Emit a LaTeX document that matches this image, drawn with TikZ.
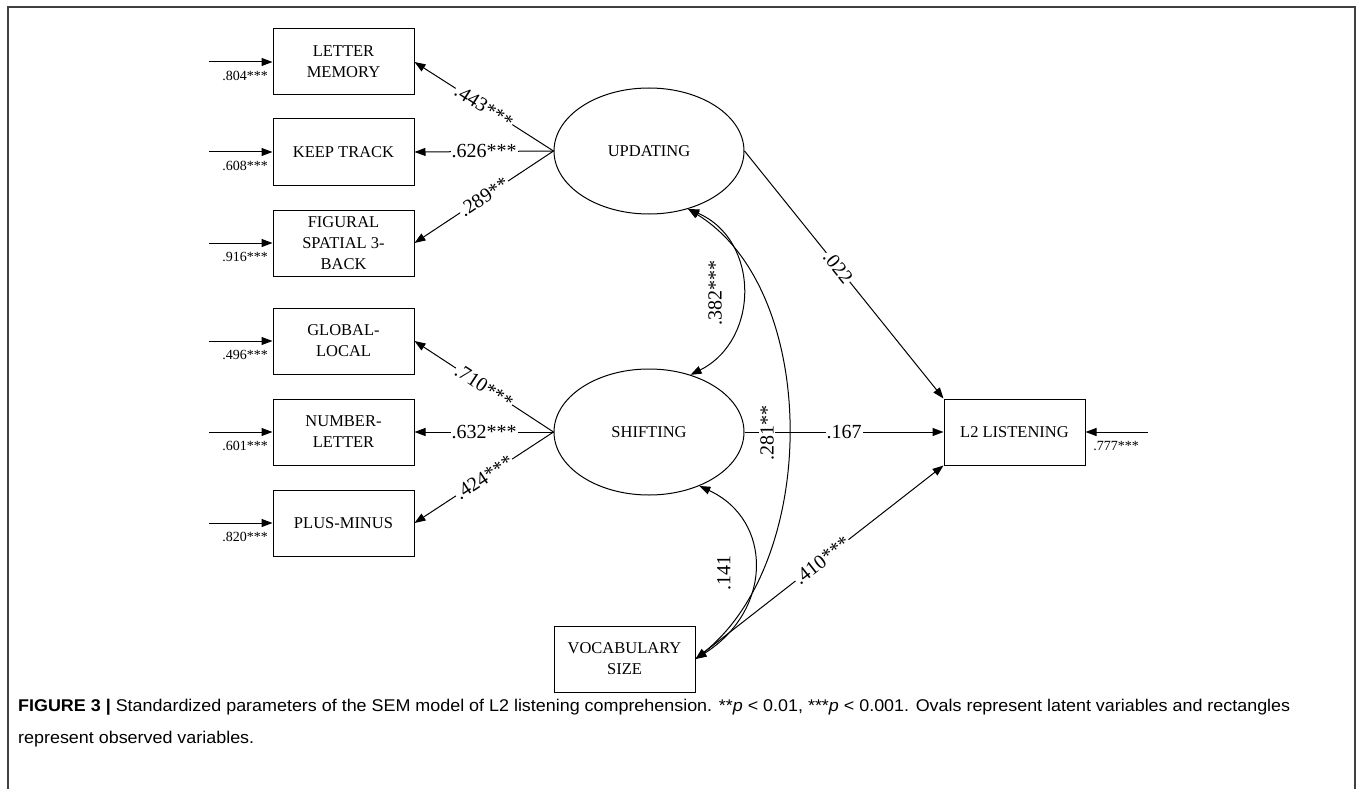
\documentclass[tikz,border=0pt]{standalone}
\usepackage{fontspec}
\setmainfont{Liberation Serif}
\newfontfamily\capfont{Liberation Sans}
\usetikzlibrary{arrows.meta,shapes.geometric}
\newsavebox\capboxA
\newsavebox\capboxB
\newlength\capw
\begin{document}
\sbox{\capboxA}{\capfont\fontsize{17}{20}\selectfont\textbf{FIGURE 3 |} Standardized parameters of the SEM model of L2 listening comprehension. **\textit{p} < 0.01, ***\textit{p} < 0.001. Ovals represent latent variables and rectangles}%
\sbox{\capboxB}{\capfont\fontsize{17}{20}\selectfont represent observed variables.}%
\setlength\capw{\wd\capboxA}%
\pgfmathsetmacro\capsc{1272/\capw}%
\begin{tikzpicture}[x=1pt,y=-1pt,
  obs/.style={draw, line width=1pt, minimum width=141pt, minimum height=66pt, align=center, inner sep=0pt, font=\fontsize{16.5}{21}\selectfont},
  lat/.style={draw, ellipse, line width=1pt, minimum width=190pt, minimum height=126pt, inner sep=0pt, font=\fontsize{16.5}{21}\selectfont},
  reg/.style={line width=1pt, -{Triangle[length=11pt,width=8pt]}},
  cov/.style={line width=1pt, {Triangle[length=11pt,width=8pt]}-{Triangle[length=11pt,width=8pt]}},
  coef/.style={font=\fontsize{20}{24}\selectfont, fill=white, inner sep=1pt},
  errlab/.style={font=\fontsize{14}{16}\selectfont, inner sep=0pt},
  frameline/.style={draw=black!75, line width=1.3pt}
]
\useasboundingbox (0,0) rectangle (1357,789);
\draw[frameline] (8,789) -- (8,7) -- (1355,7) -- (1355,789);

% observed indicators
\node[obs] (lm)  at (343.5,62)  {LETTER\\MEMORY};
\node[obs] (kt)  at (343.5,152) {KEEP TRACK};
\node[obs] (fig) at (343.5,243) {FIGURAL\\SPATIAL 3-\\BACK};
\node[obs] (gl)  at (343.5,341) {GLOBAL-\\LOCAL};
\node[obs] (nl)  at (343.5,432) {NUMBER-\\LETTER};
\node[obs] (pm)  at (343.5,523) {PLUS-MINUS};
\node[obs] (voc) at (624.5,659) {VOCABULARY\\SIZE};
\node[obs] (l2)  at (1014.5,432) {L2 LISTENING};

% latent variables
\node[lat] (upd) at (649,151) {UPDATING};
\node[lat] (shf) at (649,432) {SHIFTING};

% error terms
\foreach \n/\y/\v in {lm/62/.804, kt/152/.608, fig/243/.916, gl/341/.496, nl/432/.601, pm/523/.820}{
  \coordinate (e\n) at (209,\y);
  \draw[reg] (e\n) -- (\n.west);
  \node[errlab] (el\n) at (245,\y+14) {\v***};
}
\coordinate (el2) at (1148,432);
\draw[reg] (el2) -- (l2.east);
\node[errlab] (ell2) at (1116,446) {.777***};

% loadings
\draw[reg] (upd.west) -- node[coef, sloped, pos=0.5] (c1) {.443***} (lm.east);
\draw[reg] (upd.west) -- node[coef, pos=0.5] (c2) {.626***} (kt.east);
\draw[reg] (upd.west) -- node[coef, sloped, pos=0.5] (c3) {.289**} (fig.east);
\draw[reg] (shf.west) -- node[coef, sloped, pos=0.5] (c4) {.710***} (gl.east);
\draw[reg] (shf.west) -- node[coef, pos=0.5] (c5) {.632***} (nl.east);
\draw[reg] (shf.west) -- node[coef, sloped, pos=0.5] (c6) {.424***} (pm.east);

% structural paths
\draw[reg] (upd.east) -- node[coef, sloped, pos=0.47] (c7) {.022} (l2.north west);
\draw[reg] (shf.east) -- node[coef, pos=0.5] (c8) {.167} (l2.west);
\draw[reg] (voc.east) -- node[coef, sloped, pos=0.51] (c9) {.410***} (l2.south west);

% covariances
\draw[cov] (upd.-56) .. controls (760,240) and (760,340) .. (shf.54);
\draw[cov] (upd.-56) .. controls (820,290) and (820,560) .. (voc.east);
\draw[cov] (shf.-47) .. controls (773,520) and (773,610) .. (voc.east);
\node[coef, fill=none, rotate=90] (c10) at (715,293) {.382***};
\node[coef, rotate=90] (c11) at (767,433) {.281**};
\node[coef, fill=none, rotate=90] (c12) at (724,573) {.141};

% caption
\node[anchor=base west, inner sep=0pt] (cap1) at (18,711) {\scalebox{\capsc}[1]{\usebox\capboxA}};
\node[anchor=base west, inner sep=0pt] (cap2) at (18,743) {\scalebox{\capsc}[1]{\usebox\capboxB}};
\end{tikzpicture}
\end{document}
